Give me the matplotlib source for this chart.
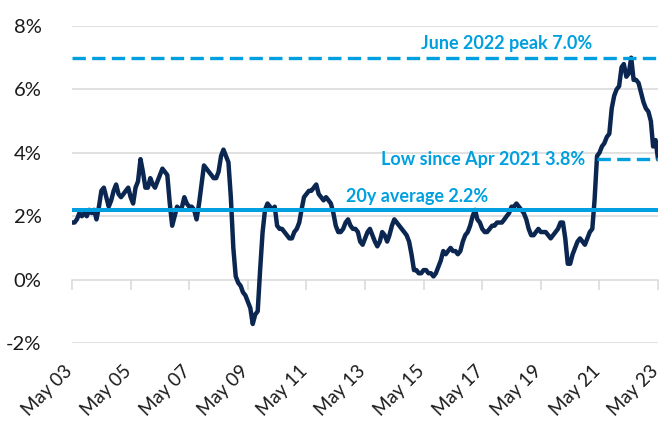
import matplotlib
matplotlib.use("Agg")
import matplotlib.pyplot as plt
import matplotlib.transforms as mtransforms
import numpy as np
import pandas as pd

plt.rcParams['font.family'] = ['Lato', 'DejaVu Sans']

# Monthly YoY inflation, May 2003 .. May 2023 (%)
v2003 = [1.8, 1.8, 1.9, 2.1, 2.0, 2.1, 2.0, 2.2]
v2004 = [2.1, 2.2, 1.9, 2.3, 2.8, 2.9, 2.6, 2.3, 2.5, 2.8, 3.0, 2.7]
v2005 = [2.6, 2.7, 2.8, 2.9, 2.6, 2.4, 2.9, 3.1, 3.8, 3.4, 2.9, 2.9]
v2006 = [3.2, 3.0, 2.9, 3.1, 3.3, 3.5, 3.4, 3.3, 2.4, 1.7, 2.0, 2.3]
v2007 = [2.2, 2.3, 2.6, 2.4, 2.3, 2.3, 2.2, 1.9, 2.4, 3.0, 3.6, 3.5]
v2008 = [3.4, 3.3, 3.2, 3.2, 3.4, 3.9, 4.1, 3.9, 3.7, 2.6, 1.0, 0.1]
v2009 = [-0.1, -0.2, -0.4, -0.5, -0.7, -0.9, -1.4, -1.1, -1.0, 0.3, 1.5, 2.2]
v2010 = [2.4, 2.3, 2.2, 2.3, 1.7, 1.6, 1.6, 1.5, 1.4, 1.3, 1.3, 1.5]
v2011 = [1.6, 1.8, 2.2, 2.6, 2.7, 2.8, 2.8, 2.9, 3.0, 2.7, 2.6, 2.5]
v2012 = [2.6, 2.5, 2.4, 2.1, 1.7, 1.5, 1.5, 1.6, 1.8, 1.9, 1.7, 1.6]
v2013 = [1.6, 1.5, 1.2, 1.1, 1.3, 1.5, 1.6, 1.4, 1.2, 1.05, 1.2, 1.5]
v2014 = [1.4, 1.2, 1.4, 1.7, 1.9, 1.8, 1.7, 1.6, 1.5, 1.4, 1.2, 0.8]
v2015 = [0.3, 0.3, 0.2, 0.2, 0.3, 0.3, 0.2, 0.2, 0.1, 0.2, 0.4, 0.6]
v2016 = [0.9, 0.8, 0.9, 1.0, 0.9, 0.9, 0.8, 0.9, 1.2, 1.4, 1.5, 1.7]
v2017 = [2.0, 2.2, 1.9, 1.8, 1.6, 1.5, 1.5, 1.6, 1.7, 1.7, 1.8, 1.8]
v2018 = [1.8, 1.9, 2.0, 2.1, 2.3, 2.3, 2.4, 2.3, 2.2, 2.1, 1.9, 1.6]
v2019 = [1.4, 1.4, 1.5, 1.6, 1.5, 1.5, 1.5, 1.4, 1.3, 1.4, 1.5, 1.6]
v2020 = [1.8, 1.8, 1.3, 0.5, 0.5, 0.8, 1.0, 1.2, 1.3, 1.2, 1.1, 1.3]
v2021 = [1.5, 1.6, 2.5, 3.9, 4.0, 4.2, 4.3, 4.5, 4.6, 5.4, 5.8, 6.0]
v2022 = [6.1, 6.7, 6.8, 6.4, 6.5, 7.0, 6.3, 6.3, 6.2, 5.9, 5.6, 5.4]
v2023 = [5.3, 5.0, 4.2, 4.4, 3.8]

values = (v2003 + v2004 + v2005 + v2006 + v2007 + v2008 + v2009 + v2010 +
          v2011 + v2012 + v2013 + v2014 + v2015 + v2016 + v2017 + v2018 +
          v2019 + v2020 + v2021 + v2022 + v2023)
dates = pd.date_range("2003-05-01", periods=len(values), freq="MS")

avg_value = 2.2
peak_value = 7.0
low_value = 3.8
low_start = "2021-04-01"
tick_labels = ["May 03", "May 05", "May 07", "May 09", "May 11", "May 13",
               "May 15", "May 17", "May 19", "May 21", "May 23"]
y_ticks = [-2, 0, 2, 4, 6, 8]
y_labels = ["-2%", "0%", "2%", "4%", "6%", "8%"]

NAVY = "#0B2650"
BLUE = "#00A0E0"
GRID = "#D9D9D9"

fig = plt.figure(figsize=(6.69, 4.26), dpi=100)
ax = fig.add_axes([72/669, 1-343/426, (658-72)/669, (343-26)/426])

ax.set_xlim(dates[0], dates[-1])
ax.set_ylim(-2, 8)

# grid
for yv in y_ticks:
    if yv != 0:
        ax.axhline(yv, color=GRID, lw=1.1, zorder=0)

ax.plot(dates, values, color=NAVY, lw=3.2, solid_joinstyle='round',
        solid_capstyle='round', zorder=3)

ax.axhline(avg_value, color=BLUE, lw=2.9, zorder=4)
ax.axhline(peak_value, color=BLUE, lw=2.4, ls=(0, (4.0, 1.9)),
           dash_capstyle='butt', zorder=4)
ax.plot([pd.Timestamp(low_start), dates[-1]], [low_value, low_value],
        color=BLUE, lw=2.4, ls=(0, (4.0, 1.9)), dash_capstyle='butt', zorder=4)

txt_kw = dict(color=BLUE, fontsize=13, fontweight='bold')
ax.text(pd.Timestamp("2015-04-01"), peak_value + 0.18, "June 2022 peak 7.0%",
        ha='left', va='bottom', **txt_kw)
ax.text(pd.Timestamp("2020-11-01"), low_value, "Low since Apr 2021 3.8%",
        ha='right', va='center', **txt_kw)
ax.text(pd.Timestamp("2012-09-01"), avg_value + 0.15, "20y average 2.2%",
        ha='left', va='bottom', **txt_kw)

# y axis
ax.set_yticks(y_ticks)
ax.set_yticklabels(y_labels, fontsize=14.5, color="#1a1a1a")
ax.tick_params(axis='y', length=0, pad=22)

# x axis: tick marks on zero line, labels at bottom
xt = pd.date_range("2003-05-01", "2023-05-01", freq="24MS")
for s in ['top', 'right', 'left']:
    ax.spines[s].set_visible(False)
ax.spines['bottom'].set_position(('data', 0))
ax.spines['bottom'].set_color(GRID)
ax.spines['bottom'].set_linewidth(1.1)
ax.set_xticks(xt)
ax.set_xticklabels([])
ax.tick_params(axis='x', length=7, width=1.1, color=GRID, direction='out')

sec = ax.secondary_xaxis('bottom')
sec.set_xticks(xt)
sec.set_xticklabels(tick_labels, rotation=45, ha='right', va='top',
                    rotation_mode='anchor', fontsize=13.5, color="#1a1a1a")
sec.tick_params(length=0, pad=14)
sec.spines['bottom'].set_visible(False)
shift = mtransforms.ScaledTranslation(-8/100, 0, fig.dpi_scale_trans)
for lab in sec.get_xticklabels():
    lab.set_transform(lab.get_transform() + shift)

fig.savefig("out.png", dpi=100)
